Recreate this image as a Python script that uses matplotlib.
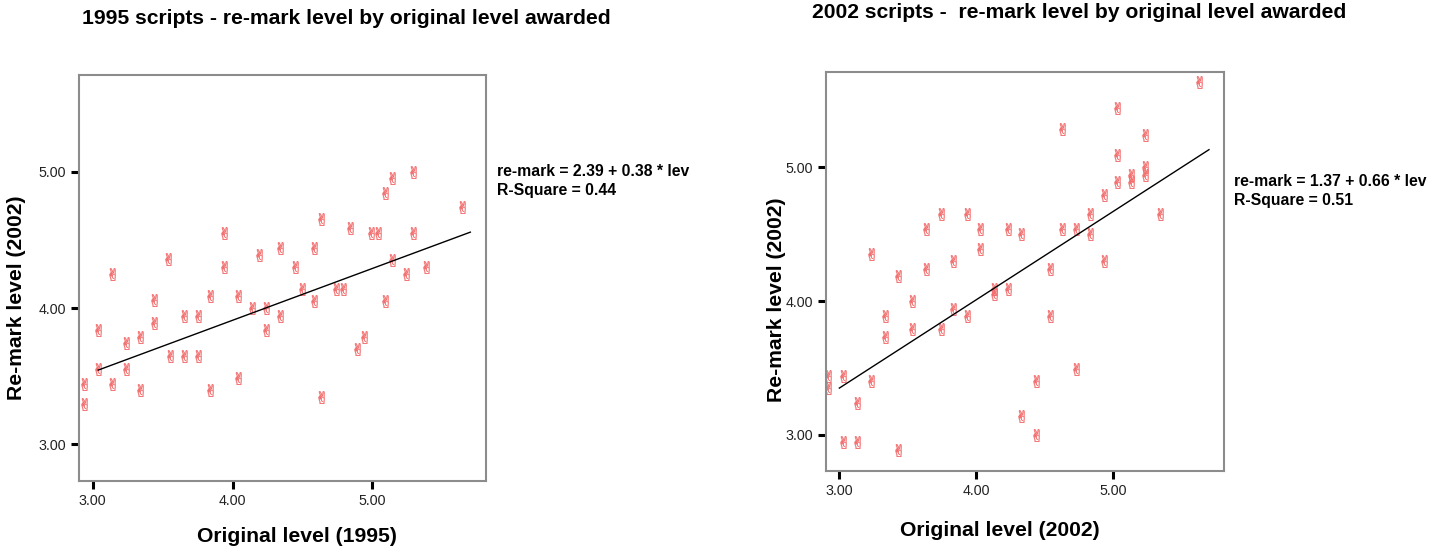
import matplotlib
matplotlib.use("Agg")
import matplotlib.pyplot as plt

plt.rcParams['font.family'] = ['Liberation Sans', 'DejaVu Sans']

# ---- data: 1995 scripts ----
x1995 = [3.14, 3.44, 3.54, 3.84, 3.94, 3.94, 4.04, 4.19, 4.34, 4.45, 4.50, 4.58, 4.58,
         4.63, 4.74, 4.79, 4.84, 4.99, 5.04, 5.09, 5.14, 5.29, 5.29, 5.14, 5.24, 5.38,
         5.64, 5.09, 4.14, 4.24, 3.44, 3.65, 3.75, 4.34, 3.04, 3.34, 3.24, 4.24, 4.94,
         4.89, 3.55, 3.65, 3.75, 3.04, 3.24, 2.94, 3.14, 3.34, 3.84, 4.04, 2.94, 4.63]
y1995 = [4.25, 4.06, 4.36, 4.09, 4.55, 4.30, 4.09, 4.39, 4.44, 4.30, 4.14, 4.44, 4.05,
         4.65, 4.14, 4.14, 4.59, 4.55, 4.55, 4.84, 4.95, 5.00, 4.55, 4.35, 4.25, 4.30,
         4.74, 4.05, 4.00, 4.00, 3.89, 3.94, 3.94, 3.94, 3.84, 3.79, 3.74, 3.84, 3.79,
         3.70, 3.65, 3.65, 3.65, 3.55, 3.55, 3.44, 3.44, 3.40, 3.40, 3.49, 3.30, 3.35]
fit1995 = (2.39, 0.38)
fitx1995 = [3.04, 5.70]

# ---- data: 2002 scripts ----
x2002 = [5.63, 5.03, 4.63, 5.23, 5.03, 5.23, 5.23, 5.13, 5.13, 5.03, 4.93, 5.34, 4.83,
         3.74, 3.93, 3.63, 4.03, 4.23, 4.33, 4.63, 4.73, 4.83, 3.23, 4.03, 3.83, 4.93,
         3.63, 4.54, 3.43, 3.53, 3.33, 3.33, 3.53, 3.74, 3.83, 3.93, 4.13, 4.13, 4.23,
         4.54, 2.92, 3.03, 2.92, 3.23, 3.13, 4.73, 4.44, 4.33, 4.44, 3.03, 3.13, 3.43]
y2002 = [5.64, 5.44, 5.29, 5.24, 5.09, 5.00, 4.94, 4.94, 4.89, 4.89, 4.79, 4.65, 4.65,
         4.65, 4.65, 4.54, 4.54, 4.54, 4.50, 4.54, 4.54, 4.50, 4.35, 4.39, 4.30, 4.30,
         4.24, 4.24, 4.19, 4.00, 3.89, 3.73, 3.79, 3.79, 3.94, 3.89, 4.09, 4.05, 4.09,
         3.89, 3.44, 3.44, 3.35, 3.40, 3.24, 3.49, 3.40, 3.14, 3.00, 2.95, 2.95, 2.89]
fit2002 = (1.37, 0.66)
fitx2002 = [3.00, 5.70]

ticks = [3.0, 4.0, 5.0]
tick_labels = ["3.00", "4.00", "5.00"]

fig = plt.figure(figsize=(14.46, 5.5), dpi=100)

panels = [
    dict(rect=[0.0544, 0.1249, 0.2815, 0.7393], x=x1995, y=y1995, fit=fit1995, fitx=fitx1995,
         title="1995 scripts - re-mark level by original level awarded", title_xy=(82, 18),
         xlabel="Original level (1995)", xlab_xy=(297, 537), ylab_xy=(17, 298),
         eq_xy=(497, 171), r2=0.44),
    dict(rect=[0.5710, 0.1436, 0.2755, 0.7249], x=x2002, y=y2002, fit=fit2002, fitx=fitx2002,
         title="2002 scripts -  re-mark level by original level awarded", title_xy=(812, 13),
         xlabel="Original level (2002)", xlab_xy=(1000, 530), ylab_xy=(776, 300),
         eq_xy=(1234, 181), r2=0.51),
]

W, H = 1446, 550
for p in panels:
    ax = fig.add_axes(p['rect'])
    ax.plot(p['x'], p['y'], linestyle='none', marker='$\u270c$', markersize=9,
            color='#f26d6d', markeredgewidth=0.3)
    a, b = p['fit']
    fx = p['fitx']
    ax.plot(fx, [a + b * v for v in fx], color='black', linewidth=1.0)
    ax.set_xlim(2.90, 5.81)
    ax.set_ylim(2.73, 5.71)
    ax.set_xticks(ticks)
    ax.set_xticklabels(tick_labels)
    ax.set_yticks(ticks)
    ax.set_yticklabels(tick_labels)
    ax.tick_params(direction='out', length=6, width=2.2, color='black',
                   labelsize=10.3, labelcolor='#222222', pad=3)
    for s in ax.spines.values():
        s.set_color('#8c8c8c')
        s.set_linewidth(1.5)
    tx, ty = p['title_xy']
    fig.text(tx / W, 1 - ty / H, p['title'], fontsize=15.2, fontweight='bold',
             ha='left', va='center')
    lx, ly = p['xlab_xy']
    fig.text(lx / W, 1 - ly / H, p['xlabel'], fontsize=15.2, fontweight='bold',
             ha='center', va='center')
    yx, yy = p['ylab_xy']
    fig.text(yx / W, 1 - yy / H, "Re-mark level (2002)", fontsize=15.2, fontweight='bold',
             ha='center', va='center', rotation=90)
    ex, ey = p['eq_xy']
    fig.text(ex / W, 1 - ey / H, f"re-mark = {a:.2f} + {b:.2f} * lev", fontsize=11.3,
             fontweight='bold', ha='left', va='center')
    fig.text(ex / W, 1 - (ey + 20) / H, f"R-Square = {p['r2']:.2f}", fontsize=11.3,
             fontweight='bold', ha='left', va='center')

fig.savefig("out.png", dpi=100, facecolor='white')
